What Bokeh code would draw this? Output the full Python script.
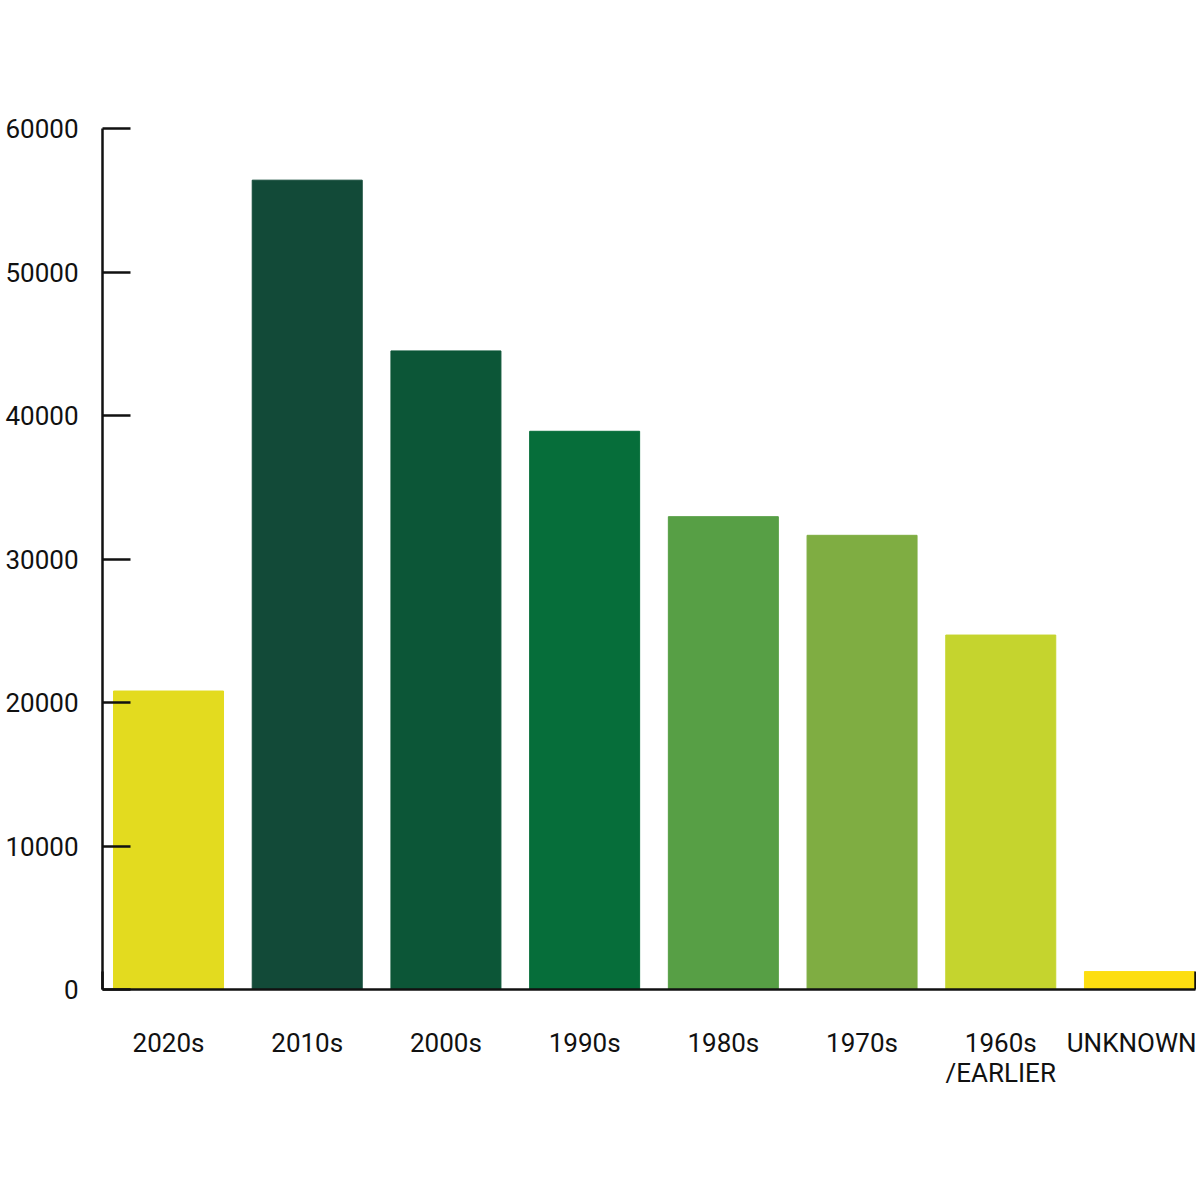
from bokeh.plotting import figure
from bokeh.models import ColumnDataSource, Range1d, FixedTicker
from bokeh.embed import file_html
from bokeh.resources import INLINE

categories = ["2020s", "2010s", "2000s", "1990s", "1980s", "1970s", "1960s\n/EARLIER", "UNKNOWN"]
values = [20800, 56400, 44500, 38900, 32950, 31650, 24700, 1250]
colors = ["#E3DB1F", "#124A38", "#0C5637", "#066E3A", "#579F45", "#7FAD42", "#C5D42E", "#FDDE10"]
y_ticks = [0, 10000, 20000, 30000, 40000, 50000, 60000]

xs = list(range(len(categories)))
src = ColumnDataSource(dict(x=xs, top=values, color=colors))

FONT = "Roboto"
X_START, X_END = -0.476, len(categories) - 1 + 0.404

p = figure(width=1196, height=1180, output_backend="svg", toolbar_location=None,
           x_range=Range1d(X_START, X_END), y_range=Range1d(0, 60000),
           min_border_left=102, min_border_top=128, min_border_right=1, min_border_bottom=191)

p.vbar(x="x", top="top", bottom=0, width=0.793, color="color", source=src)

p.outline_line_color = None
p.xgrid.grid_line_color = None
p.ygrid.grid_line_color = None
p.background_fill_color = "white"
p.border_fill_color = "white"

xa = p.xaxis[0]
xa.ticker = FixedTicker(ticks=xs, minor_ticks=[X_START, X_END])
xa.major_label_overrides = {i: c for i, c in enumerate(categories)}
xa.major_tick_in = 0
xa.major_tick_out = 0
xa.minor_tick_in = 18
xa.minor_tick_out = 0
xa.minor_tick_line_width = 2.5
xa.minor_tick_line_color = "#111111"
xa.axis_line_width = 2.5
xa.axis_line_color = "#111111"
xa.major_label_standoff = 38
xa.major_label_text_baseline = "middle"
xa.major_label_text_line_height = 1.0
xa.major_label_text_font = FONT
xa.major_label_text_font_size = "26px"
xa.major_label_text_color = "#111111"

ya = p.yaxis[0]
ya.ticker = FixedTicker(ticks=y_ticks, minor_ticks=[])
ya.major_label_overrides = {t: str(t) for t in y_ticks}
ya.major_tick_in = 28
ya.major_tick_out = 0
ya.major_tick_line_width = 2.5
ya.major_tick_line_color = "#111111"
ya.minor_tick_in = 0
ya.minor_tick_out = 0
ya.axis_line_width = 2.5
ya.axis_line_color = "#111111"
ya.major_label_standoff = 24
ya.major_label_text_font = FONT
ya.major_label_text_font_size = "26px"
ya.major_label_text_color = "#111111"

open("out.html", "w").write(file_html(p, INLINE))
